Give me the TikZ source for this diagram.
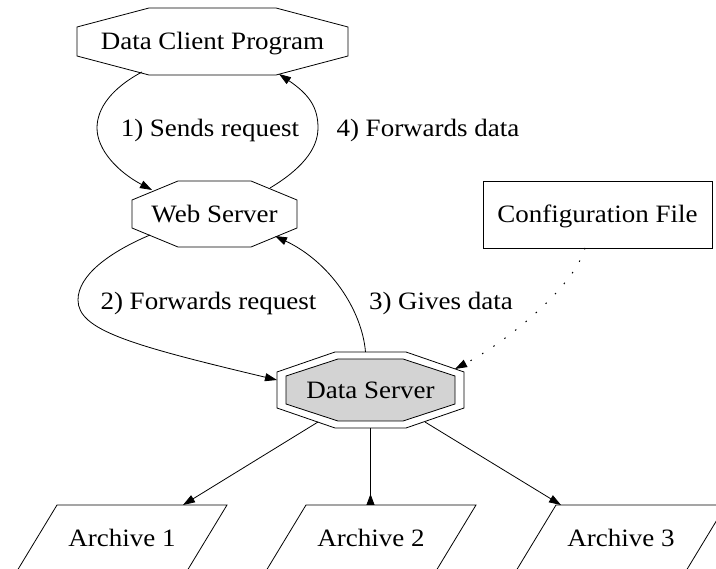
\documentclass[tikz,border=0pt]{standalone}
\usepackage{fontspec}
\setmainfont{Liberation Serif}[FakeStretch=1.08]
\usetikzlibrary{arrows.meta,calc,backgrounds}
\newcommand\octo[6]{\path[#6] ($(#1.north west)+(#4+#2,#5)$) -- ($(#1.north east)+(-#4-#2,#5)$) -- ($(#1.north east)+(-#4,#5+#3)$) -- ($(#1.south east)+(-#4,-#5-#3)$) -- ($(#1.south east)+(-#4-#2,-#5)$) -- ($(#1.south west)+(#4+#2,-#5)$) -- ($(#1.south west)+(#4,-#5-#3)$) -- ($(#1.north west)+(#4,#5+#3)$) -- cycle;}
\tikzset{
  lbl/.style={font=\fontsize{25}{30}\selectfont, text height=16.5pt, text depth=0pt, inner sep=0pt, outer sep=0pt},
  shp/.style={line width=0.8pt, draw=black},
  edg/.style={line width=0.8pt, -{Triangle[length=12pt,width=8pt]}},
  revedg/.style={line width=0.8pt, -{Triangle[length=11pt,width=8pt,reversed]}},
  dotedg/.style={line width=1pt, dash pattern=on 1.5pt off 12pt, -{Triangle[length=12pt,width=8pt]}},
}
\begin{document}
\begin{tikzpicture}[x=1pt,y=-1pt]
\clip (0,0) rectangle (716,569);
% nodes
\node[lbl, minimum width=271pt, minimum height=67pt] (dcp) at (212.5,41.5) {Data Client Program};
\node[lbl, minimum width=165pt, minimum height=66pt] (ws) at (214.5,214) {Web Server};
\node[lbl, minimum width=187pt, minimum height=76pt] (ds) at (370.5,390) {Data Server};
\node[lbl, draw, line width=0.8pt, minimum width=229pt, minimum height=67pt] (cf) at (597.5,214.5) {Configuration File};
\node[lbl, minimum width=170pt, minimum height=66pt] (a1) at (122,538) {Archive 1};
\node[lbl, minimum width=170pt, minimum height=66pt] (a2) at (371,538) {Archive 2};
\node[lbl, minimum width=170pt, minimum height=66pt] (a3) at (621,538) {Archive 3};
% shapes
\octo{dcp}{72}{19}{0}{0}{shp}
\octo{ws}{46}{19}{0}{0}{shp}
\begin{pgfonlayer}{background}
\fill[white] (0,0) rectangle (716,569);
\octo{ds}{58}{20}{0}{0}{shp, fill=white}
\octo{ds}{52}{17}{9}{7}{shp, fill={rgb,255:red,211;green,211;blue,211}}
\end{pgfonlayer}
\foreach \a in {a1,a2,a3}{
  \draw[shp] ($(\a.north west)+(20,0)$) -- ($(\a.north east)+(20,0)$) -- ($(\a.south east)+(-20,0)$) -- ($(\a.south west)+(-20,0)$) -- cycle;
}
% edge labels
\node[lbl] (l1) at (210,128.5) {1) Sends request};
\node[lbl] (l4) at (428,128.5) {4) Forwards data};
\node[lbl] (l2) at (208.5,301.5) {2) Forwards request};
\node[lbl] (l3) at (441,301.5) {3) Gives data};
% edges
\draw[edg] ($(dcp.south west)+(65,-3)$) .. controls (112,88) and (97,108) .. (97,128) .. controls (97,150) and (118,172) .. ($(ws.north west)+(20,9)$);
\draw[edg] ($(ws.north east)+(-27,7)$) .. controls (300,170) and (318,150) .. (318,128) .. controls (318,108) and (310,95) .. ($(dcp.south east)+(-69,-1)$);
\draw[edg] ($(ws.south west)+(18,-12)$) .. controls (110,252) and (78,275) .. (78,300) .. controls (78,330) and (130,345) .. ($(ds.west)+(0,-10)$);
\draw[edg] ($(ds.north)+(-5,0)$) .. controls (362,310) and (330,262) .. ($(ws.south east)+(-22,-11)$);
\draw[dotedg] ($(cf.south)+(-12.5,0)$) .. controls (575,285) and (510,340) .. ($(ds.north east)+(-9,17)$);
\draw[edg] ($(ds.south west)+(41,-6)$) -- ($(a1.north)+(61,0)$);
\draw[revedg] (ds.south) -- (ds.south |- a2.north);
\draw[edg] ($(ds.south east)+(-39,-6)$) -- ($(a3.north)+(-60,0)$);
\end{tikzpicture}
\end{document}
